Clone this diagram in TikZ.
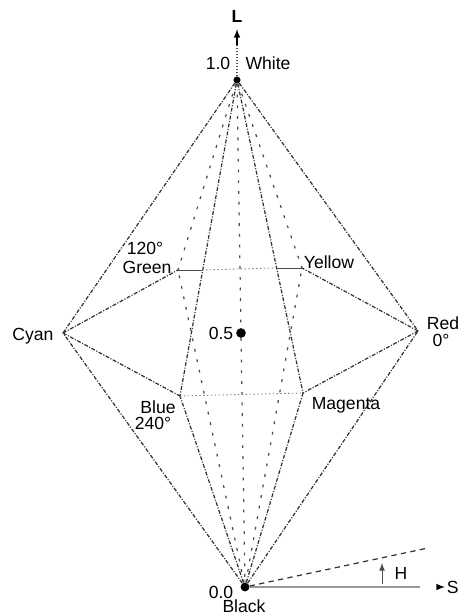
\documentclass[tikz,border=0pt]{standalone}
\usepackage{fontspec}
\setmainfont{Liberation Sans}

\begin{document}
\begin{tikzpicture}[
  edge/.style={black!80, line width=0.7pt, dash pattern=on 2.2pt off 0.9pt on 0.6pt off 0.9pt},
  hidden/.style={black!70, line width=0.7pt, dash pattern=on 1.6pt off 4.5pt},
  rim/.style={black!50, line width=0.5pt, dash pattern=on 0.8pt off 1.4pt},
  tick/.style={black!70, line width=0.5pt},
  dot/.style={circle, fill=black, inner sep=0pt, minimum size=4pt}]
\useasboundingbox (0,0) rectangle (9.18,12.3);
% apex, base point and middle of the double cone
\node[dot] (white) at (4.74,10.70) {};
\node[dot, minimum size=5pt] (black) at (4.90,0.56) {};
\node[dot, minimum size=5.5pt] (mid) at (4.82,5.64) {};
% hexagon corners
\coordinate (cyan) at (1.26,5.64);
\coordinate (red) at (8.36,5.68);
\coordinate (green) at (3.56,6.90);
\coordinate (yellow) at (6.04,6.94);
\coordinate (blue) at (3.60,4.38);
\coordinate (magenta) at (6.06,4.44);
% where the back rim crosses the front edges
\coordinate (crossg) at (4.04,6.90);
\coordinate (crossy) at (5.52,6.94);
% outer edges
\draw[edge] (white) -- (cyan);
\draw[edge] (white) -- (red);
\draw[edge] (black) -- (cyan);
\draw[edge] (black) -- (red);
% front edges
\draw[edge] (white) -- (blue);
\draw[edge] (white) -- (magenta);
\draw[edge] (black) -- (blue);
\draw[edge] (black) -- (magenta);
% back edges
\draw[hidden] (white) -- (green);
\draw[hidden] (white) -- (yellow);
\draw[hidden] (black) -- (green);
\draw[hidden] (black) -- (yellow);
% middle axis, goes through the centre
\draw[hidden] (white) -- (mid);
\draw[hidden] (mid) -- (black);
% hexagon rim
\draw[edge] (cyan) -- (green);
\draw[edge] (cyan) -- (blue);
\draw[edge] (red) -- (yellow);
\draw[edge] (red) -- (magenta);
\draw[tick] (green) -- (crossg);
\draw[rim] (crossg) -- (crossy);
\draw[tick] (crossy) -- (yellow);
\draw[rim] (blue) -- (magenta);
% L axis
\coordinate (ltip) at (4.74,11.72);
\draw[black!70, line width=0.7pt, densely dotted] (white) -- (4.74,11.45);
\draw[-latex, line width=0.7pt] (4.74,11.40) -- (ltip);
\node (llabel) at (4.74,11.98) {\textbf{L}};
% S axis
\coordinate (sgap) at (8.40,0.56);
\coordinate (sarrow) at (8.76,0.56);
\coordinate (stip) at (8.90,0.56);
\coordinate (hend) at (8.56,1.34);
\draw[black!40, line width=0.8pt] (black) -- (sgap);
\draw[-latex, line width=0.7pt] (sarrow) -- (stip);
\draw[edge, dash pattern=on 3pt off 2.5pt] (black) -- (hend);
% H angle
\coordinate (harc) at (7.64,0.62);
\coordinate (htip) at (7.64,1.04);
\draw[-latex, black!70, line width=0.5pt] (harc) -- (htip);
\node (hlabel) at (8.02,0.84) {H};
% labels
\node[anchor=east, inner sep=0pt] (slabel) at (9.18,0.56) {S};
\node (one) at (4.36,11.04) {1.0};
\node (wlabel) at (5.36,11.04) {White};
\node (half) at (4.42,5.64) {0.5};
\node (zero) at (4.42,0.46) {0.0};
\node[anchor=south, inner sep=0pt] (klabel) at (4.88,0.03) {Black};
\node (clabel) at (0.66,5.58) {Cyan};
\node (rlabel) at (8.86,5.84) {Red};
\node (rdeg) at (8.82,5.50) {0°};
\node (glabel) at (2.94,6.96) {Green};
\node (gdeg) at (2.90,7.34) {120°};
\node (ylabel) at (6.58,7.06) {Yellow};
\node (blabel) at (3.16,4.16) {Blue};
\node (bdeg) at (3.06,3.84) {240°};
\node (mlabel) at (6.92,4.20) {Magenta};
\end{tikzpicture}
\end{document}
